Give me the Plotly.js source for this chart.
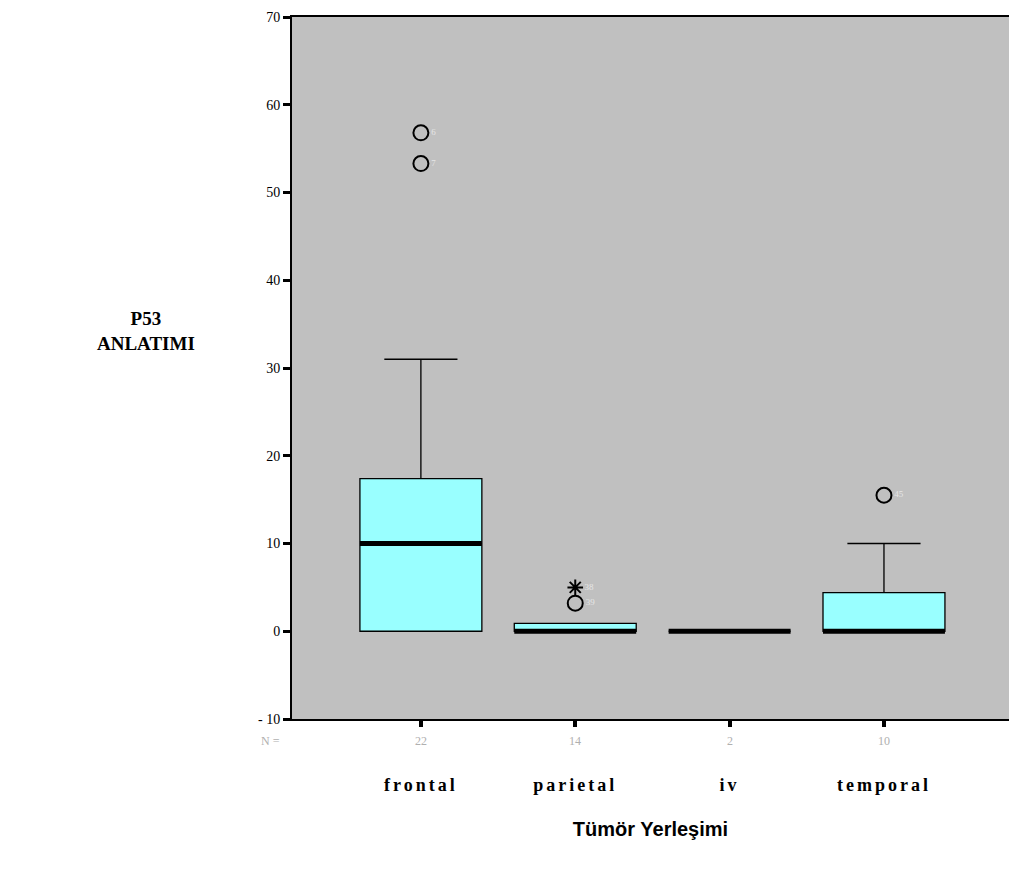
<!DOCTYPE html>
<html>
<head>
<meta charset="utf-8">
<script src="https://cdn.plot.ly/plotly-3.0.1.min.js"></script>
<style>
body{margin:0;padding:0;background:#fff;}
.xtick text{letter-spacing:3px;}
</style>
</head>
<body>
<div id="chart" style="width:1009px;height:879px;"></div>
<script>
// Data
var categories = ["frontal", "parietal", "iv", "temporal"];
var nCounts = [22, 14, 2, 10];
var q1 = [0, 0, 0, 0];
var medians = [10, 0, 0, 0];
var q3 = [17.4, 0.9, 0, 4.4];
var lowerWhisker = [0, 0, 0, 0];
var upperWhisker = [31, 0.9, 0, 10];
// Outliers
var circleOutX = ["frontal", "frontal", "parietal", "temporal"];
var circleOutY = [56.8, 53.3, 3.2, 15.5];
var circleOutLbl = ["6", "7", "39", "45"];
var starOutX = ["parietal"];
var starOutY = [5.0];
var starOutLbl = ["38"];
var yTickVals = [-10, 0, 10, 20, 30, 40, 50, 60, 70];
var yTickText = ["- 10", "0", "10", "20", "30", "40", "50", "60", "70"];

var serif = "Liberation Serif, Times New Roman, serif";

var boxTrace = {
  type: "box",
  x: categories,
  q1: q1, median: medians, q3: q3,
  lowerfence: lowerWhisker, upperfence: upperWhisker,
  fillcolor: "#99FFFF",
  line: {color: "#000000", width: 1.3},
  width: 0.79,
  whiskerwidth: 0.6,
  boxpoints: false,
  hoverinfo: "skip",
  showlegend: false
};
var medianTrace = {
  type: "box",
  x: categories,
  q1: medians, median: medians, q3: medians,
  lowerfence: medians, upperfence: medians,
  fillcolor: "rgba(0,0,0,0)",
  line: {color: "#000000", width: 5},
  width: 0.79,
  whiskerwidth: 0,
  boxpoints: false,
  hoverinfo: "skip",
  showlegend: false
};
var circleTrace = {
  type: "scatter", mode: "markers+text",
  x: circleOutX, y: circleOutY,
  text: circleOutLbl, textposition: "middle right",
  textfont: {family: serif, size: 9, color: "#e6e6e6"},
  marker: {symbol: "circle-open", size: 15, color: "#000000", line: {width: 2, color: "#000000"}},
  showlegend: false, hoverinfo: "skip", cliponaxis: false
};
var starTrace = {
  type: "scatter", mode: "markers+text",
  x: starOutX, y: starOutY,
  text: starOutLbl, textposition: "middle right",
  textfont: {family: serif, size: 9, color: "#e6e6e6"},
  marker: {symbol: "asterisk-open", size: 13, color: "#000000", line: {width: 2, color: "#000000"}},
  showlegend: false, hoverinfo: "skip", cliponaxis: false
};

var annotations = [
  {xref: "paper", yref: "paper", x: -0.203, y: 0.553, xanchor: "center", yanchor: "middle",
   text: "<b>P53</b><br><b>ANLATIMI</b>", showarrow: false,
   font: {family: serif, size: 19, color: "#000000"}},
  {xref: "paper", yref: "paper", x: -0.03, y: -0.031, xanchor: "center", yanchor: "middle",
   text: "N =", showarrow: false, font: {family: serif, size: 12, color: "#b0b0b0"}}
];
for (var i = 0; i < categories.length; i++) {
  annotations.push({xref: "x", yref: "paper", x: categories[i], y: -0.031, xanchor: "center", yanchor: "middle",
    text: String(nCounts[i]), showarrow: false, font: {family: serif, size: 12, color: "#b0b0b0"}});
}

var layout = {
  width: 1009, height: 879,
  margin: {l: 292, r: 0, t: 17, b: 160},
  paper_bgcolor: "#ffffff",
  plot_bgcolor: "#C0C0C0",
  boxmode: "overlay",
  showlegend: false,
  xaxis: {
    type: "category",
    categoryorder: "array", categoryarray: categories,
    range: [-0.835, 3.81],
    showgrid: false, zeroline: false,
    showline: true, linecolor: "#000000", linewidth: 2, mirror: true,
    ticks: "outside", ticklen: 6, tickwidth: 4, tickcolor: "#000000",
    ticklabelstandoff: 42,
    tickfont: {family: serif, size: 18, color: "#000000", weight: "bold"},
    title: {text: "<b>Tümör Yerleşimi</b>", standoff: 28,
      font: {family: "Liberation Sans, Arial, sans-serif", size: 20, color: "#000000"}}
  },
  yaxis: {
    range: [-10, 70],
    tickvals: yTickVals, ticktext: yTickText,
    showgrid: false, zeroline: false,
    showline: true, linecolor: "#000000", linewidth: 2,
    ticks: "outside", ticklen: 7, tickwidth: 3, tickcolor: "#000000",
    tickfont: {family: serif, size: 14, color: "#000000"}
  },
  annotations: annotations
};

Plotly.newPlot("chart", [boxTrace, medianTrace, circleTrace, starTrace], layout, {displayModeBar: false, staticPlot: true});
</script>
</body>
</html>
